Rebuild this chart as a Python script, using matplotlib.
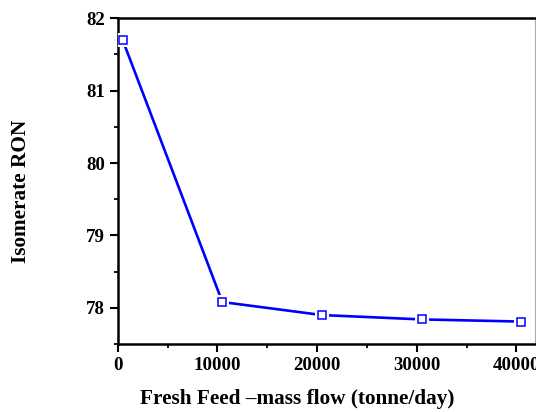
import matplotlib
matplotlib.use("Agg")
import matplotlib.pyplot as plt
from matplotlib.ticker import MultipleLocator

feed_flow = [500, 10500, 20500, 30500, 40500]
ron = [81.70, 78.08, 77.90, 77.84, 77.81]
x_ticks = [0, 10000, 20000, 30000, 40000]
y_ticks = [78, 79, 80, 81, 82]

plt.rcParams['font.family'] = ['Liberation Serif', 'DejaVu Serif']
plt.rcParams['font.weight'] = 'bold'

fig = plt.figure(figsize=(5.36, 4.12), dpi=100)
ax = fig.add_axes([0.2196, 0.165, 0.9987 - 0.2196, 0.9556 - 0.165])

ax.plot(feed_flow, ron, color='#0000ff', lw=1.9, zorder=2)
ax.plot(feed_flow, ron, ls='none', marker='s', ms=9.5, mfc='white', mec='white', mew=0, zorder=3)
ax.plot(feed_flow, ron, ls='none', marker='s', ms=6.3, mfc='white', mec='#0000ff', mew=1.1, zorder=4)

ax.set_xlim(0, 41900)
ax.set_ylim(77.5, 82)
ax.set_xticks(x_ticks)
ax.set_yticks(y_ticks)
ax.xaxis.set_minor_locator(MultipleLocator(5000))
ax.yaxis.set_minor_locator(MultipleLocator(0.5))

ax.tick_params(axis='both', which='major', direction='out', length=5.5, width=1.5, labelsize=13.6)
ax.tick_params(axis='both', which='minor', direction='out', length=3, width=1.3)
ax.tick_params(axis='x', which='both', top=False)

for lbl in ax.get_xticklabels() + ax.get_yticklabels():
    lbl.set_fontweight('bold')

ax.spines['left'].set_linewidth(1.8)
ax.spines['bottom'].set_linewidth(1.8)
ax.spines['top'].set_linewidth(1.8)
ax.spines['right'].set_linewidth(0.8)
ax.spines['right'].set_color('#aaaaaa')

ax.set_xlabel('Fresh Feed \u2013mass flow (tonne/day)', fontsize=15.3, fontweight='bold', labelpad=11)
ax.set_ylabel('Isomerate RON', fontsize=15.3, fontweight='bold', labelpad=40)
ax.xaxis.label.set_x(0.4294)
ax.yaxis.label.set_y(0.468)

fig.savefig('out.png', dpi=100)
